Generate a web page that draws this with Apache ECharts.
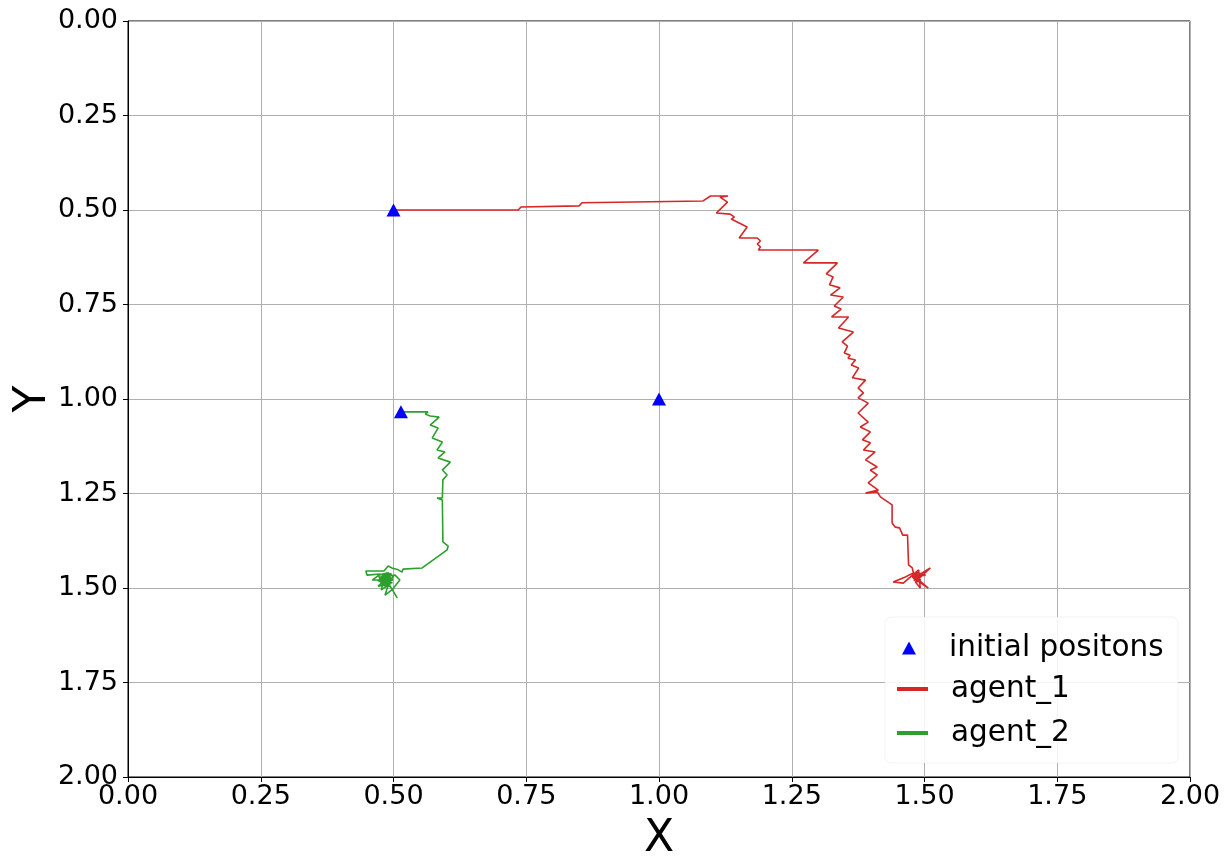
<!DOCTYPE html>
<html>
<head>
<meta charset="utf-8">
<script src="https://cdn.jsdelivr.net/npm/echarts@6/dist/echarts.min.js"></script>
<style>
html,body{margin:0;padding:0;background:#fff;}
#chart{width:1229px;height:860px;}
</style>
</head>
<body>
<div id="chart"></div>
<script>
// ---- data ----
const xTicks = [0, 0.25, 0.5, 0.75, 1.0, 1.25, 1.5, 1.75, 2.0];
const yTicks = [0, 0.25, 0.5, 0.75, 1.0, 1.25, 1.5, 1.75, 2.0];
const legendNames = ['initial positons', 'agent_1', 'agent_2'];

const initialPositions = [[0.5, 0.5], [1.0, 1.0], [0.514, 1.034]];

const agent1 = [
  [0.500,0.500],[0.735,0.500],[0.740,0.492],[0.737,0.489],[0.850,0.489],[0.855,0.481],
  [0.852,0.476],[1.083,0.476],[1.097,0.463],[1.130,0.463],[1.115,0.466],[1.129,0.479],
  [1.108,0.508],[1.134,0.511],[1.142,0.519],[1.136,0.524],[1.166,0.545],[1.151,0.574],
  [1.185,0.574],[1.191,0.582],[1.185,0.590],[1.191,0.598],[1.187,0.606],[1.300,0.606],
  [1.272,0.640],[1.336,0.640],[1.315,0.669],[1.328,0.677],[1.321,0.698],[1.341,0.706],
  [1.323,0.725],[1.347,0.730],[1.330,0.754],[1.343,0.762],[1.325,0.783],[1.357,0.783],
  [1.338,0.812],[1.366,0.823],[1.345,0.849],[1.355,0.860],[1.349,0.878],[1.360,0.884],
  [1.356,0.892],[1.370,0.897],[1.362,0.910],[1.376,0.918],[1.364,0.944],[1.389,0.950],
  [1.375,0.971],[1.385,0.984],[1.375,0.997],[1.394,1.011],[1.375,1.037],[1.394,1.061],
  [1.379,1.074],[1.398,1.087],[1.383,1.108],[1.398,1.116],[1.385,1.135],[1.407,1.140],
  [1.389,1.161],[1.411,1.180],[1.398,1.188],[1.411,1.201],[1.394,1.222],[1.413,1.241],
  [1.389,1.249],[1.411,1.246],[1.417,1.259],[1.439,1.280],[1.439,1.328],[1.445,1.339],
  [1.453,1.341],[1.459,1.360],[1.468,1.360],[1.470,1.439],[1.477,1.447],[1.479,1.460],
  [1.464,1.471],[1.441,1.484],[1.460,1.487],[1.489,1.452],[1.492,1.500],[1.483,1.484],
  [1.511,1.447],[1.483,1.471],[1.507,1.500],[1.477,1.471],[1.502,1.466],[1.483,1.458],
  [1.489,1.474],[1.494,1.463],[1.481,1.476],[1.490,1.481],[1.486,1.468],[1.480,1.480],
  [1.492,1.470],[1.484,1.462],[1.479,1.472],[1.493,1.478],[1.487,1.484],[1.482,1.466],
  [1.491,1.465],[1.485,1.477],[1.478,1.468],[1.489,1.480],[1.486,1.472]
];

const agent2 = [
  [0.514,1.034],[0.565,1.034],[0.560,1.040],[0.569,1.045],[0.586,1.048],[0.569,1.069],
  [0.584,1.077],[0.573,1.103],[0.592,1.114],[0.582,1.135],[0.597,1.140],[0.584,1.156],
  [0.607,1.167],[0.592,1.188],[0.601,1.201],[0.593,1.214],[0.592,1.262],[0.582,1.262],
  [0.580,1.267],[0.588,1.265],[0.592,1.267],[0.593,1.378],[0.603,1.389],[0.601,1.399],
  [0.554,1.447],[0.518,1.450],[0.516,1.458],[0.509,1.452],[0.497,1.447],[0.490,1.442],
  [0.482,1.455],[0.448,1.455],[0.450,1.466],[0.475,1.463],[0.460,1.479],[0.484,1.479],
  [0.471,1.495],[0.494,1.490],[0.480,1.471],[0.503,1.466],[0.512,1.479],[0.497,1.505],
  [0.484,1.519],[0.490,1.492],[0.477,1.505],[0.486,1.460],[0.495,1.474],[0.473,1.476],
  [0.488,1.487],[0.478,1.482],[0.492,1.468],[0.481,1.465],[0.476,1.488],[0.490,1.484],
  [0.499,1.478],[0.486,1.470],[0.474,1.472],[0.483,1.494],[0.493,1.496],[0.487,1.478],
  [0.479,1.468],[0.496,1.462],[0.489,1.473],[0.482,1.486],[0.470,1.480],[0.485,1.476],
  [0.494,1.482],[0.480,1.477],[0.488,1.466],[0.476,1.470],[0.491,1.490],[0.484,1.483],
  [0.498,1.486],[0.478,1.491],[0.472,1.466],[0.490,1.460],[0.500,1.470],[0.486,1.488],
  [0.479,1.475],[0.493,1.476],[0.483,1.470],[0.507,1.526]
];

// ---- chart ----
const FONT = 'DejaVu Sans';
const chart = echarts.init(document.getElementById('chart'), null, {renderer: 'canvas'});

function axisBase(ticks) {
  return {
    type: 'value',
    min: ticks[0],
    max: ticks[ticks.length - 1],
    interval: ticks[1] - ticks[0],
    nameMoveOverlap: false,
    axisLine: {show: true, onZero: false, lineStyle: {color: '#000', width: 1}},
    axisTick: {show: true, inside: false, length: 5, lineStyle: {color: '#000', width: 1}},
    axisLabel: {
      show: true, color: '#000', fontFamily: FONT, fontSize: 27,
      formatter: v => v.toFixed(2)
    },
    splitLine: {show: true, lineStyle: {color: '#b0b0b0', width: 1}},
    nameTextStyle: {color: '#000', fontFamily: FONT, fontSize: 44}
  };
}

const xAxis = Object.assign(axisBase(xTicks), {
  name: 'X', nameLocation: 'middle', nameGap: 41
});
xAxis.axisLabel.margin = 6;

const yAxis = Object.assign(axisBase(yTicks), {
  inverse: true, name: 'Y', nameLocation: 'middle', nameGap: 72, nameRotate: 90
});
yAxis.axisLabel.margin = 10;

chart.setOption({
  backgroundColor: '#fff',
  animation: false,
  grid: {left: 128, right: 39, top: 21, bottom: 83, show: true, borderColor: '#000', borderWidth: 1,
         backgroundColor: 'transparent', containLabel: false, outerBoundsMode: 'none'},
  xAxis: xAxis,
  yAxis: yAxis,
  graphic: [{
    type: 'rect', z: 1,
    shape: {x: 885, y: 617, width: 293, height: 146, r: 6},
    style: {fill: 'rgba(255,255,255,0.85)', stroke: 'rgba(225,225,225,0.4)', lineWidth: 1}
  }],
  legend: [
    {
      data: [{name: legendNames[0], icon: 'triangle', itemStyle: {opacity: 1}}],
      orient: 'vertical', left: 902, top: 633, padding: 0,
      itemWidth: 14, itemHeight: 13, itemGap: 0,
      textStyle: {fontFamily: FONT, fontSize: 29.5, color: '#000', padding: [0, 0, 0, 28]}
    },
    {
      data: [{name: legendNames[1], icon: 'rect'}, {name: legendNames[2], icon: 'rect'}],
      orient: 'vertical', left: 897, top: 674, padding: 0,
      itemWidth: 31, itemHeight: 4, itemGap: 14,
      textStyle: {fontFamily: FONT, fontSize: 29.5, color: '#000', padding: [0, 0, 0, 18]}
    }
  ],
  series: [
    {
      name: legendNames[1], type: 'line', data: agent1, showSymbol: false, symbol: 'none',
      color: '#d62728', lineStyle: {color: '#d62728', width: 1.6}, z: 2
    },
    {
      name: legendNames[2], type: 'line', data: agent2, showSymbol: false, symbol: 'none',
      color: '#2ca02c', lineStyle: {color: '#2ca02c', width: 1.6}, z: 2
    },
    {
      name: legendNames[0], type: 'scatter', data: initialPositions, symbol: 'triangle',
      symbolSize: [14, 13], color: '#0000ff', itemStyle: {color: '#0000ff', opacity: 1}, z: 3
    }
  ]
});
</script>
</body>
</html>
